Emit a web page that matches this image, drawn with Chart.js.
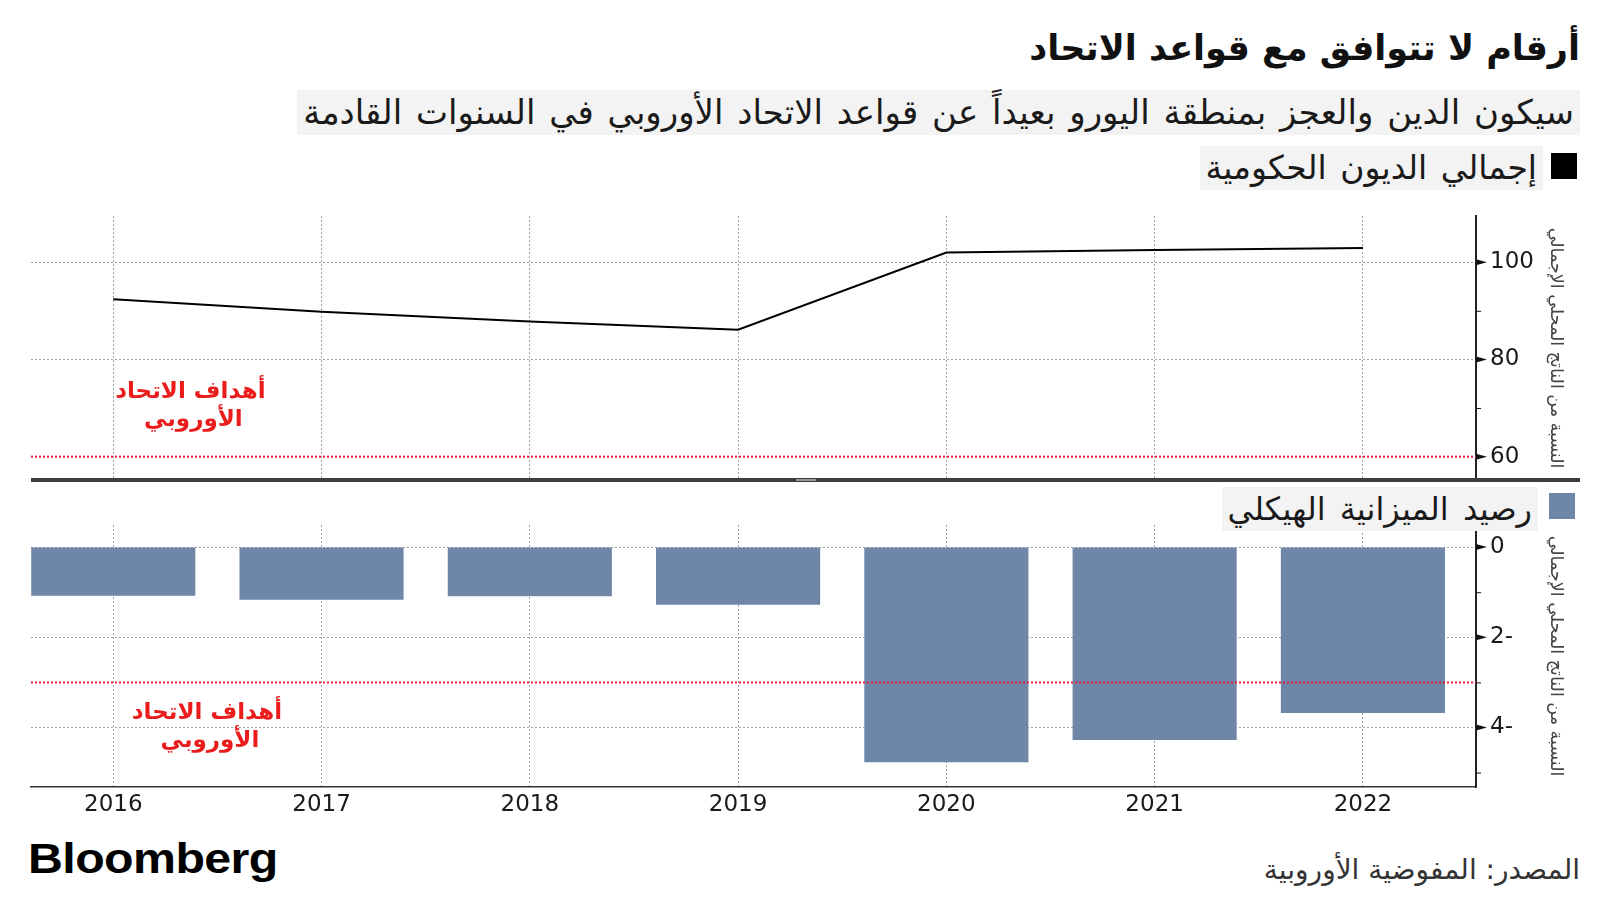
<!DOCTYPE html>
<html lang="ar">
<head>
<meta charset="utf-8">
<script src="https://cdn.jsdelivr.net/npm/chart.js@4.4.1/dist/chart.umd.min.js"></script>
<style>
  body { margin: 0; width: 1600px; height: 900px; background: #fff; position: relative; overflow: hidden; font-family: "DejaVu Sans", sans-serif; color: #1a1a1a; }
  .abs { position: absolute; }
  .rtl { direction: rtl; text-align: right; white-space: nowrap; }
  #title { right: 20px; top: 28px; font-size: 35px; font-weight: bold; color: #111; }
  #subtitle { right: 20px; top: 90px; height: 45px; line-height: 45px; font-size: 34px; word-spacing: 3px; background: #f3f3f3; padding: 0 6px; }
  .legend { height: 44px; line-height: 44px; font-size: 32px; word-spacing: 4px; background: #f3f3f3; padding: 0 6px; }
  #leg1 { right: 57px; top: 146px; font-size: 33px; word-spacing: 3px; }
  #leg2 { right: 62px; top: 487px; }
  .swatch { width: 26px; height: 26px; }
  #sw1 { left: 1551px; top: 153px; background: #000; }
  #sw2 { left: 1549px; top: 493px; background: #6e87a9; }
  #sep { left: 31px; top: 478px; width: 1549px; height: 4px; background: #3c3c3c; }
  #grip { left: 796px; top: 479px; width: 20px; height: 2px; background: #9a9a9a; }
  #brand { left: 28px; top: 835px; font-family: "Liberation Sans", Arial, sans-serif; font-weight: bold; font-size: 42px; letter-spacing: -0.5px; color: #000; transform: scaleX(1.15); transform-origin: left center; }
  #source { right: 20px; top: 853px; font-size: 28px; color: #333; }
  canvas { position: absolute; left: 0; }
</style>
</head>
<body>
<div id="title" class="abs rtl">أرقام لا تتوافق مع قواعد الاتحاد</div>
<div id="subtitle" class="abs rtl">سيكون الدين والعجز بمنطقة اليورو بعيداً عن قواعد الاتحاد الأوروبي في السنوات القادمة</div>
<div id="sw1" class="abs swatch"></div>
<div id="leg1" class="abs rtl legend">إجمالي الديون الحكومية</div>
<canvas id="debtChart" width="1600" height="294" style="top:200px"></canvas>
<canvas id="balanceChart" width="1600" height="322" style="top:505px"></canvas>
<div id="sep" class="abs"></div>
<div id="grip" class="abs"></div>
<div id="sw2" class="abs swatch"></div>
<div id="leg2" class="abs rtl legend">رصيد الميزانية الهيكلي</div>
<div id="brand" class="abs">Bloomberg</div>
<div id="source" class="abs rtl">المصدر: المفوضية الأوروبية</div>
<script>
const years = [2016, 2017, 2018, 2019, 2020, 2021, 2022];
const debt = [92.4, 89.8, 87.8, 86.1, 102.0, 102.5, 102.9];
const balance = [-1.08, -1.17, -1.09, -1.28, -4.77, -4.28, -3.68];

const debtTicks = [60, 70, 80, 90, 100];
const debtLabels = ['60', '', '80', '', '100'];
const balanceTicks = [0, -1, -2, -3, -4, -5];
const balanceLabels = ['0', '', '2-', '', '4-', ''];

const debtTarget = 60;
const balanceTarget = -3;
const targetText = ['أهداف الاتحاد', 'الأوروبي'];
const axisTitle = 'النسبة من الناتج المحلي الإجمالي';

const FONT = '"DejaVu Sans", sans-serif';

// red target line + label, and the little arrow ticks on the right axis
const marks = {
  id: 'marks',
  afterDatasetsDraw(chart, args, opts) {
    const { ctx, chartArea: a } = chart;
    const x = chart.scales.x, y = chart.scales.y;
    const ty = y.getPixelForValue(opts.target);
    ctx.save();
    ctx.strokeStyle = '#e3203f';
    ctx.lineWidth = 2;
    ctx.setLineDash([2, 2]);
    ctx.beginPath();
    ctx.moveTo(a.left, ty);
    ctx.lineTo(a.right, ty);
    ctx.stroke();
    ctx.setLineDash([]);

    ctx.fillStyle = '#ea1c1c';
    ctx.font = 'bold 23px ' + FONT;
    ctx.textAlign = 'center';
    ctx.textBaseline = 'middle';
    const lx = x.getPixelForValue(opts.labelAt[0]);
    const ly = y.getPixelForValue(opts.labelAt[1]);
    targetText.forEach((t, i) => ctx.fillText(t, lx + i * 3, ly + i * 28));
    ctx.restore();
  },
  afterDraw(chart) {
    const { ctx } = chart;
    const y = chart.scales.y;
    const ax = y.left;
    ctx.save();
    ctx.fillStyle = '#111';
    ctx.strokeStyle = '#111';
    ctx.lineWidth = 1;
    y.ticks.forEach((t, i) => {
      const py = y.getPixelForTick(i);
      if (t.label) {
        ctx.beginPath();
        ctx.moveTo(ax, py - 3);
        ctx.lineTo(ax + 11, py);
        ctx.lineTo(ax, py + 3);
        ctx.closePath();
        ctx.fill();
      } else {
        ctx.beginPath();
        ctx.moveTo(ax, py + 0.5);
        ctx.lineTo(ax + 5, py + 0.5);
        ctx.stroke();
      }
    });
    ctx.restore();
  }
};

function xScale(showLabels) {
  return {
    type: 'linear',
    min: 2015.605,
    max: 2022.543,
    offset: false,
    afterBuildTicks: s => { s.ticks = years.map(v => ({ value: v })); },
    afterFit: s => { s.height = showLabels ? 40 : 0; },
    grid: { offset: false, color: '#a0a0a0', lineWidth: 1, drawTicks: false },
    border: { display: showLabels, color: '#333', width: 1.5, dash: [2, 2] },
    ticks: {
      display: showLabels,
      padding: 4,
      color: '#1a1a1a',
      font: { family: FONT, size: 23 },
      callback: v => String(v)
    }
  };
}

function yScale(min, max, tickVals, labels) {
  return {
    position: 'right',
    min: min,
    max: max,
    afterBuildTicks: s => { s.ticks = tickVals.map(v => ({ value: v })); },
    afterFit: s => { s.width = 94; },
    grid: {
      drawTicks: true,
      tickLength: 14,
      tickColor: 'rgba(0,0,0,0)',
      color: c => (labels[c.index] ? '#a0a0a0' : 'rgba(0,0,0,0)'),
      lineWidth: 1
    },
    border: { color: '#222', width: 2, dash: [2, 2] },
    ticks: {
      padding: 0,
      color: '#1a1a1a',
      font: { family: FONT, size: 23 },
      callback: (v, i) => labels[i]
    },
    title: {
      display: true,
      text: axisTitle,
      color: '#444',
      font: { family: FONT, size: 17.5 },
      padding: { top: 4, bottom: 4 }
    }
  };
}

new Chart(document.getElementById('debtChart'), {
  type: 'line',
  data: {
    datasets: [{
      data: years.map((yr, i) => ({ x: yr, y: debt[i] })),
      borderColor: '#000',
      borderWidth: 2,
      pointRadius: 0,
      tension: 0
    }]
  },
  options: {
    responsive: false,
    animation: false,
    layout: { padding: { left: 31, right: 30, top: 16, bottom: 14 } },
    scales: {
      x: xScale(false),
      y: yScale(55.2, 109.5, debtTicks, debtLabels)
    },
    plugins: {
      legend: { display: false },
      tooltip: { enabled: false },
      marks: { target: debtTarget, labelAt: [2016.37, 73.3] }
    }
  },
  plugins: [marks]
});

new Chart(document.getElementById('balanceChart'), {
  type: 'bar',
  data: {
    datasets: [{
      data: years.map((yr, i) => ({ x: yr, y: balance[i] })),
      backgroundColor: '#6e87a9',
      borderWidth: 0,
      categoryPercentage: 1,
      barPercentage: 0.788
    }]
  },
  options: {
    responsive: false,
    animation: false,
    layout: { padding: { left: 31, right: 30, top: 20, bottom: 0 } },
    scales: {
      x: xScale(true),
      y: yScale(-5.32, 0.49, balanceTicks, balanceLabels)
    },
    plugins: {
      legend: { display: false },
      tooltip: { enabled: false },
      marks: { target: balanceTarget, labelAt: [2016.45, -3.68] }
    }
  },
  plugins: [marks]
});
</script>
</body>
</html>
